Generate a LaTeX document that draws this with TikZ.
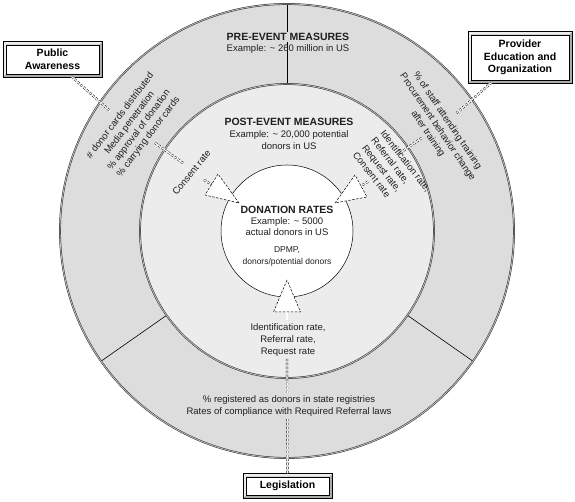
\documentclass[tikz,border=0pt]{standalone}
\usepackage{fontspec}
\setmainfont{Liberation Sans}
\usetikzlibrary{calc}
\pgfdeclarelayer{bg}
\pgfsetlayers{bg,main}
\definecolor{outerring}{gray}{0.865}
\definecolor{midring}{gray}{0.925}
\definecolor{ink}{gray}{0.12}
\tikzset{
  ringedge/.style={draw=black!85, double=gray!55, double distance=0.9pt, line width=0.45pt},
  divider/.style={draw=black, line width=0.6pt},
  txt/.style={font=\fontsize{9.5}{11.7}\selectfont, text=ink, align=center, inner sep=1pt},
  head/.style={font=\fontsize{10.5}{12}\selectfont\bfseries, text=ink, inner sep=1pt},
  smalltxt/.style={font=\fontsize{8.5}{12}\selectfont, text=ink, align=center, inner sep=1pt},
  boxnode/.style={draw=black, line width=0.5pt, fill=white, font=\fontsize{10.5}{12.5}\selectfont\bfseries, align=center, inner sep=0pt},
  linkunder/.style={draw=white, line width=2.3pt},
  link/.style={draw=black, dash pattern=on 2.5pt off 1.5pt, line width=0.45pt, double=white, double distance=1.3pt},
  tri/.style={draw=black, dash pattern=on 2.5pt off 1.5pt, line width=0.5pt, fill=white, line join=miter}
}
\newcommand\bevelframe[1]{%
  \begin{pgfonlayer}{bg}
    \fill[gray!65] ([shift={(-3pt,-3pt)}]#1.south west) rectangle ([shift={(3pt,3pt)}]#1.north east);
    \fill[gray!15] ([shift={(-3pt,-3pt)}]#1.south west) -- (#1.south west) -- (#1.north west) -- (#1.north east) -- ([shift={(3pt,3pt)}]#1.north east) -- ([shift={(-3pt,3pt)}]#1.north west) -- cycle;
    \draw[black, line width=0.5pt] ([shift={(-3pt,-3pt)}]#1.south west) rectangle ([shift={(3pt,3pt)}]#1.north east);
  \end{pgfonlayer}}
\newcommand\linkline[3][]{%
  \draw[linkunder,#1] (#2) -- (#3);
  \draw[link,#1] (#2) -- (#3);}
\begin{document}
\begin{tikzpicture}[x=1pt,y=1pt]
\useasboundingbox (0,0) rectangle (575,502);
\coordinate (C) at (287,271);
% rings
\fill[outerring] (C) circle[radius=227];
\fill[midring] (C) circle[radius=147];
\fill[white] (C) circle[radius=66];
\draw[divider] ($(C)+(90:147)$) -- ($(C)+(90:227)$);
\draw[divider] ($(C)+(215:147)$) -- ($(C)+(215:227)$);
\draw[divider] ($(C)+(325:147)$) -- ($(C)+(325:227)$);
\draw[ringedge] (C) circle[radius=227];
\draw[ringedge] (C) circle[radius=147];
\draw[black, line width=0.5pt] (C) circle[radius=66];

% boxes
\node[boxnode, minimum width=93pt, minimum height=29pt] (pa) at (52.5,442.5) {Public\\Awareness};
\node[boxnode, minimum width=98pt, minimum height=45pt] (pe) at (520,444.5) {Provider\\Education and\\Organization};
\node[boxnode, minimum width=83pt, minimum height=18pt] (leg) at (287.5,16) {Legislation};
\bevelframe{pa}
\bevelframe{pe}
\bevelframe{leg}

% connector coordinates
\coordinate (paend) at (110,391);
\coordinate (lp1) at (155,359);
\coordinate (lp2) at (183,339);
\coordinate (peend) at (456.7,389);
\coordinate (rp1) at (421.7,364);
\coordinate (rp2) at (400,349);
\coordinate (bstart) at (287,143);

\linkline[shorten <=3.5pt]{pa}{paend}
\linkline[shorten <=3.5pt]{pe}{peend}
\linkline[shorten <=3.5pt]{leg}{bstart}
\linkline{lp1}{lp2}
\linkline{rp1}{rp2}

% arrows into donation circle
\coordinate (ltip) at (239,299);
\coordinate (lv1) at (218,328);
\coordinate (lv2) at (205,307);
\coordinate (lbase) at (211.5,317.5);
\coordinate (lstem) at (204,322);
\coordinate (rtip) at (335,299);
\coordinate (rv1) at (355,327);
\coordinate (rv2) at (367,305);
\coordinate (rbase) at (361,316);
\coordinate (rstem) at (368,320.4);
\coordinate (btip) at (287,222);
\coordinate (bv1) at (273.5,190);
\coordinate (bv2) at (300.5,190);
\coordinate (bbase) at (287,190);
\coordinate (bstem) at (287,182);
\linkline{lstem}{lbase}
\linkline{rstem}{rbase}
\linkline{bstem}{bbase}
\draw[tri] (ltip) -- (lv1) -- (lv2) -- cycle;
\draw[tri] (rtip) -- (rv1) -- (rv2) -- cycle;
\draw[tri] (btip) -- (bv1) -- (bv2) -- cycle;

% texts
\node[head, fill=outerring] (pre) at (288,465) {PRE-EVENT MEASURES};
\node[txt] (preex) at (288,453) {Example: \textasciitilde{} 260 million in US};
\node[head] (post) at (289,380) {POST-EVENT MEASURES};
\node[txt] (postex) at (289,362) {Example: \textasciitilde{} 20,000 potential\\donors in US};
\node[head] (don) at (287,292) {DONATION RATES};
\node[txt] (donex) at (287,275.5) {Example: \textasciitilde{} 5000\\actual donors in US};
\node[smalltxt] (dpmp) at (287,246) {DPMP,\\donors/potential donors};
\node[txt] (botmid) at (288,162) {Identification rate,\\Referral rate,\\Request rate};
\node[txt, fill=outerring, inner sep=3pt] (botout) at (289,96) {\% registered as donors in state registries\\Rates of compliance with Required Referral laws};
\node[txt, rotate=53] (lefttxt) at (134.5,375.5) {\# donor cards distributed\\Media penetration\\\% approval of donation\\\% carrying donor cards};
\node[txt, rotate=-56] (righttxt) at (437.5,374.75) {\% of staff attending training\\Procurement behavior change\\after training};
\node[txt, rotate=51] (consent) at (191.5,329.5) {Consent rate};
\node[txt, rotate=-52, align=left] (rightmid) at (392,330) {Identification rate,\\Referral rate,\\Request rate,\\Consent rate};
\end{tikzpicture}
\end{document}
